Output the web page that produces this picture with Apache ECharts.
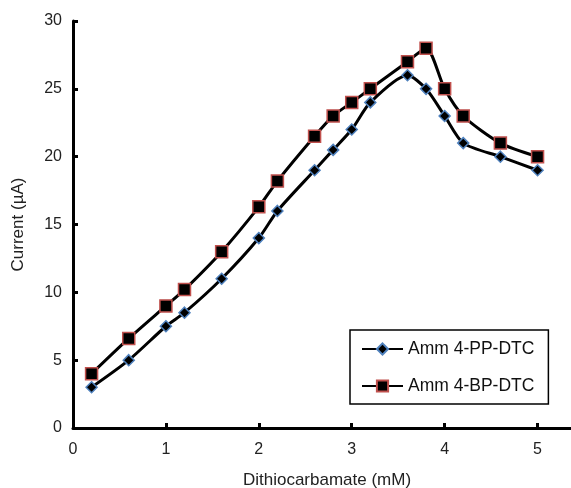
<!DOCTYPE html>
<html>
<head>
<meta charset="utf-8">
<script src="https://cdn.jsdelivr.net/npm/echarts@6/dist/echarts.min.js"></script>
<style>html,body{margin:0;padding:0;background:#fff;}#c{width:571px;height:488px;}</style>
</head>
<body>
<div id="c"></div>
<script>
const xPP = [0.2, 0.6, 1.0, 1.2, 1.6, 2.0, 2.2, 2.6, 2.8, 3.0, 3.2, 3.6, 3.8, 4.0, 4.2, 4.6, 5.0];
const yPP = [3, 5, 7.5, 8.5, 11, 14, 16, 19, 20.5, 22, 24, 26, 25, 23, 21, 20, 19];
const xBP = [0.2, 0.6, 1.0, 1.2, 1.6, 2.0, 2.2, 2.6, 2.8, 3.0, 3.2, 3.6, 3.8, 4.0, 4.2, 4.6, 5.0];
const yBP = [4, 6.6, 9, 10.2, 13, 16.3, 18.2, 21.5, 23, 24, 25, 27, 28, 25, 23, 21, 20];
const xTicks = [0, 1, 2, 3, 4, 5];
const yTicks = [0, 5, 10, 15, 20, 25, 30];
const namePP = 'Amm 4-PP-DTC';
const nameBP = 'Amm 4-BP-DTC';

const chart = echarts.init(document.getElementById('c'));
const font = 'Liberation Sans, Arial, sans-serif';
chart.setOption({
  animation: false,
  backgroundColor: '#fff',
  grid: {left: 73, right: 0, top: 21, bottom: 60, containLabel: false, outerBoundsMode: 'none'},
  xAxis: {
    type: 'value', min: 0, max: 5.36,
    name: 'Dithiocarbamate (mM)', nameLocation: 'middle', nameGap: 44,
    nameTextStyle: {fontFamily: font, fontSize: 17, color: '#222', padding: [0, 0, 0, 10]},
    axisLine: {lineStyle: {color: '#000', width: 3}},
    axisTick: {inside: true, length: 5, lineStyle: {color: '#000', width: 3}, customValues: xTicks},
    axisLabel: {fontFamily: font, fontSize: 16, color: '#222', margin: 14, customValues: xTicks},
    splitLine: {show: false}
  },
  yAxis: {
    type: 'value', min: 0, max: 30, interval: 5,
    name: 'Current (µA)', nameLocation: 'middle', nameGap: 46,
    nameTextStyle: {fontFamily: font, fontSize: 17, color: '#222'},
    axisLine: {show: true, lineStyle: {color: '#000', width: 3}},
    axisTick: {show: true, inside: true, length: 5, lineStyle: {color: '#000', width: 3}, customValues: yTicks},
    axisLabel: {fontFamily: font, fontSize: 16, color: '#222', margin: 11, customValues: yTicks},
    splitLine: {show: false}
  },
  legend: {
    orient: 'vertical', left: 350, top: 330,
    padding: [10, 14, 9, 11], itemWidth: 41, itemHeight: 14, itemGap: 19,
    borderColor: '#000', borderWidth: 1.5, backgroundColor: '#fff',
    textStyle: {fontFamily: font, fontSize: 17.5, color: '#111'},
    data: [namePP, nameBP]
  },
  series: [
    {
      name: namePP, type: 'line', smooth: 0.25,
      data: xPP.map((x, i) => [x, yPP[i]]),
      symbol: 'diamond', symbolSize: 11,
      lineStyle: {color: '#000', width: 3},
      itemStyle: {color: '#000', borderColor: '#4f81bd', borderWidth: 1.5},
      z: 3
    },
    {
      name: nameBP, type: 'line', smooth: 0.25,
      data: xBP.map((x, i) => [x, yBP[i]]),
      symbol: 'rect', symbolSize: 12,
      lineStyle: {color: '#000', width: 3},
      itemStyle: {color: '#000', borderColor: '#c0504d', borderWidth: 1.5},
      z: 2
    }
  ]
});
</script>
</body>
</html>
